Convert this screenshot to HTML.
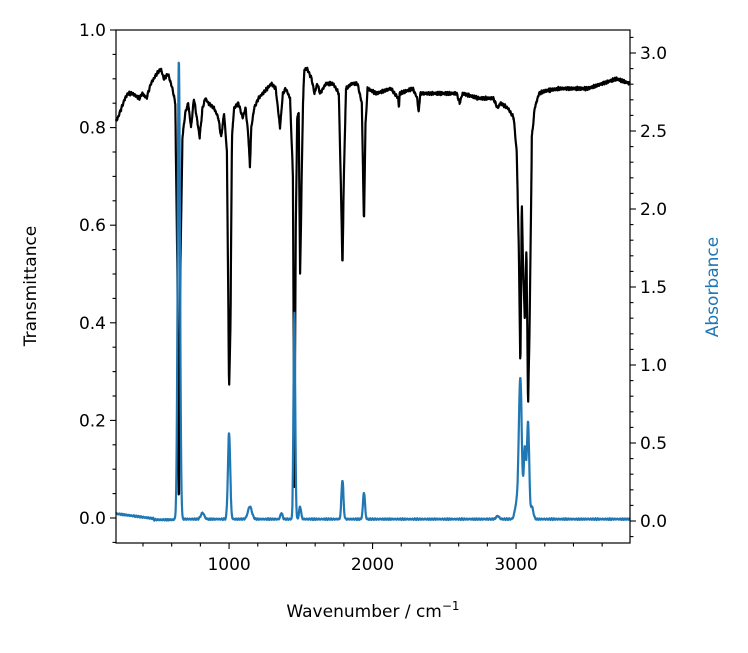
<!DOCTYPE html>
<html><head><meta charset="utf-8"><style>
html,body{margin:0;padding:0;background:#fff;}
svg text{font-family:"DejaVu Sans","Liberation Sans",sans-serif;font-size:17px;}
</style></head><body>
<svg id="s" width="748" height="648" xmlns="http://www.w3.org/2000/svg">
<rect width="748" height="648" fill="#fff"/>
<g id="plot"></g>
<rect x="116" y="30" width="514" height="513" fill="none" stroke="#000" stroke-width="1.2"/>
<g id="ticks" stroke="#000" stroke-width="1.1"></g>
<g id="labels" fill="#000"></g>
<text x="36" y="286" text-anchor="middle" transform="rotate(-90 36 286)">Transmittance</text>
<text x="718" y="287" text-anchor="middle" transform="rotate(-90 718 287)" fill="#1f77b4">Absorbance</text>
<text x="373" y="617" text-anchor="middle">Wavenumber / cm<tspan dy="-7" font-size="12">−1</tspan></text>
</svg>
<script>
function sh(w){if(w<=2000)return -25;if(w<=3050)return -25+(w-2000)*(20/1050);if(w<=3100)return -5+(w-3050)*0.1;return 0;}
const X=w=>116+(w+sh(w)-212)*(514/3582);
const YL=t=>518-t*488;
const YR=a=>521-a*156;
const T=[[212,.80],[250,.82],[300,.86],[320,.87],[350,.87],[400,.86],[420,.87],[450,.86],[480,.89],[520,.91],[550,.92],[570,.90],[600,.91],[630,.88],[650,.85],[665,.5],[675,0],[685,.5],[700,.78],[720,.83],[740,.85],[760,.80],[780,.86],[800,.82],[820,.78],[840,.84],[860,.86],[880,.85],[920,.84],[950,.82],[970,.78],[990,.83],[1010,.75],[1025,.26],[1035,.40],[1045,.78],[1060,.84],[1090,.85],[1120,.82],[1140,.84],[1160,.78],[1170,.72],[1180,.80],[1200,.84],[1230,.86],[1260,.87],[1290,.88],[1320,.89],[1350,.88],[1380,.80],[1400,.87],[1420,.88],[1450,.86],[1470,.7],[1480,.06],[1490,.6],[1500,.82],[1510,.83],[1520,.5],[1540,.85],[1550,.92],[1570,.92],[1600,.90],[1620,.87],[1640,.89],[1660,.87],[1700,.89],[1750,.89],[1790,.87],[1810,.6],[1815,.51],[1825,.7],[1840,.88],[1880,.89],[1920,.89],[1950,.85],[1965,.60],[1975,.80],[1990,.88],[2050,.87],[2150,.88],[2200,.86],[2205,.84],[2210,.87],[2300,.88],[2330,.86],[2340,.83],[2350,.87],[2500,.87],[2600,.87],[2620,.85],[2640,.87],[2750,.86],[2850,.86],[2880,.84],[2900,.85],[2950,.84],[2990,.82],[3010,.75],[3025,.55],[3035,.30],[3045,.65],[3055,.50],[3065,.40],[3075,.56],[3085,.22],[3095,.40],[3110,.78],[3130,.84],[3160,.87],[3200,.875],[3300,.88],[3400,.88],[3500,.88],[3600,.89],[3700,.90],[3794,.89]];
const P=[[675,2.95,8],[1025,.55,8],[1170,.08,14],[1480,1.32,6],[1520,.08,7],[1815,.25,7],[1965,.17,7],[3035,.9,10],[3065,.45,7],[3085,.62,7],[840,.04,12],[1390,.04,7],[2880,.02,10],[3010,.1,12],[3110,.08,10]];
function interp(w){for(let i=1;i<T.length;i++)if(w<=T[i][0]){const a=T[i-1],b=T[i];return a[1]+(b[1]-a[1])*(w-a[0])/(b[0]-a[0]);}return T[T.length-1][1];}
function nz(w){return Math.sin(w*0.37)*0.5+Math.sin(w*1.13+1)*0.3+Math.sin(w*2.71+2)*0.2;}
let a='',t='';
for(let w=212;w<=3830;w+=2){let v=w<500?0.05-(w-212)*0.00012:0.012;if(w>=500&&w<640)v=0.008;v+=0.006*nz(w);for(const p of P)v+=p[1]*Math.exp(-((w-p[0])**2)/(2*p[2]*p[2]));const x=X(w);if(x<116||x>630)continue;a+=(a?'L':'M')+x.toFixed(1)+','+YR(v).toFixed(1);}
for(let w=212;w<=3830;w+=2){let v=interp(w)+0.004*nz(w*1.3);const x=X(w);if(x<116||x>630)continue;t+=(t?'L':'M')+x.toFixed(1)+','+YL(v).toFixed(1);}
const g=document.getElementById('plot');
g.innerHTML='<path d="'+t+'" fill="none" stroke="#000" stroke-width="2.2" stroke-linejoin="round"/><path d="'+a+'" fill="none" stroke="#1f77b4" stroke-width="2.2" stroke-linejoin="round"/>';
const XA=w=>116+(w-212)*(514/3582);
let tk='',lb='';
for(let w=400;w<=3794;w+=200){const x=XA(w),maj=w%1000==0;tk+=`<line x1="${x}" y1="543" x2="${x}" y2="${543+(maj?6:3.5)}"/>`;if(maj)lb+=`<text x="${x}" y="570" text-anchor="middle">${w}</text>`;}
for(let i=-1;i<=20;i++){const v=i*0.05,y=YL(v),maj=i%4==0;if(y<29||y>543)continue;tk+=`<line x1="116" y1="${y}" x2="${116-(maj?6:3.5)}" y2="${y}"/>`;if(maj&&i>=0)lb+=`<text x="106" y="${y+6}" text-anchor="end">${v.toFixed(1)}</text>`;}
for(let i=-1;i<=31;i++){const v=i*0.1,y=YR(v),maj=i%5==0;if(y<29||y>543)continue;tk+=`<line x1="630" y1="${y}" x2="${630+(maj?6:3.5)}" y2="${y}"/>`;if(maj&&i>=0)lb+=`<text x="640" y="${y+6}">${v.toFixed(1)}</text>`;}
document.getElementById('ticks').innerHTML=tk;document.getElementById('labels').innerHTML=lb;
</script>
</body></html>
